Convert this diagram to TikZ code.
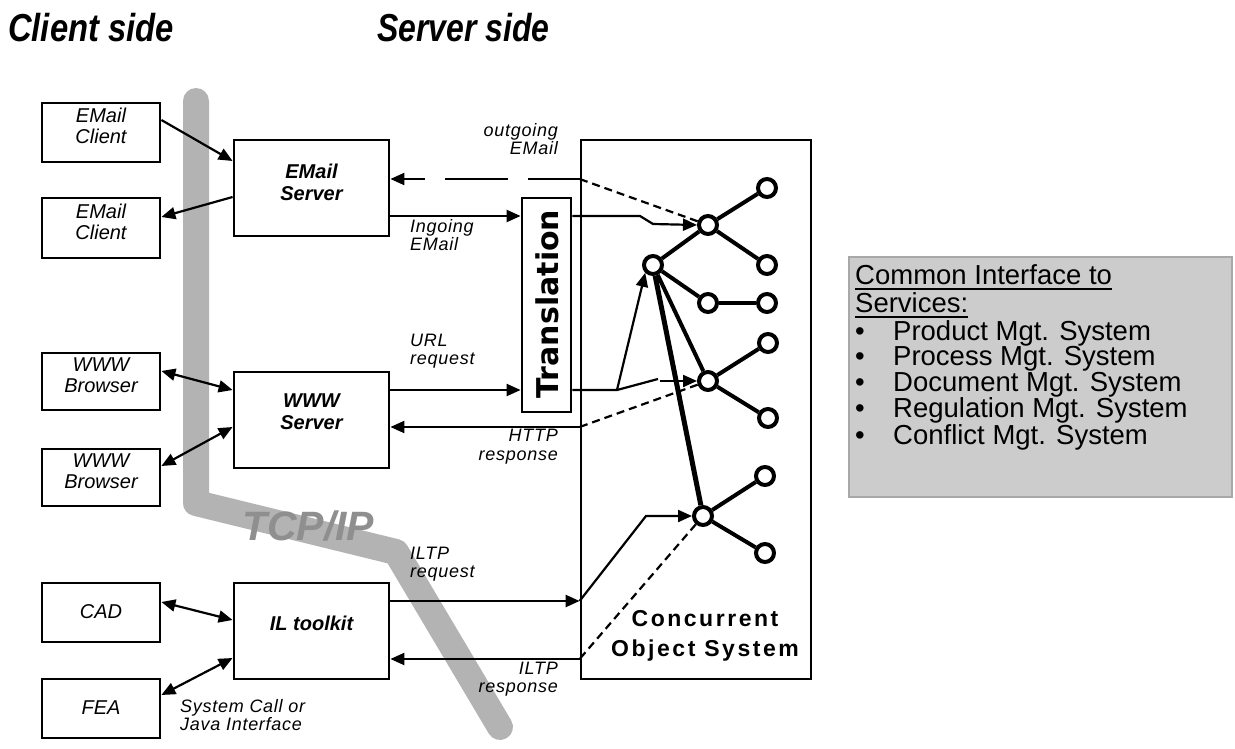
\documentclass[tikz,border=0pt]{standalone}
\usepackage{graphicx}
\usepackage{fontspec}
\setmainfont{Liberation Sans}
\newfontfamily\lblfont[LetterSpace=4]{Liberation Sans}
\newfontfamily\cosfont[LetterSpace=11]{Liberation Sans}
\newfontfamily\trfont{DejaVu Sans}
\usetikzlibrary{arrows.meta}
\definecolor{bandgray}{HTML}{B3B3B3}
\definecolor{tcpgray}{HTML}{8F8F8F}
\definecolor{panel}{HTML}{CCCCCC}
\definecolor{paneledge}{HTML}{A8A8A8}
\begin{document}
\begin{tikzpicture}[x=1pt,y=-1pt,
  >={Triangle[length=14pt,width=12pt]},
  cbox/.style={draw,line width=2.8pt,inner sep=0pt},
  conn/.style={line width=2.2pt},
  sdash/.style={line width=2.2pt,dash pattern=on 8pt off 5pt},
  ldash/.style={line width=2.2pt,dash pattern=on 52pt off 20pt on 63pt off 20pt},
  obj/.style={circle,draw,fill=white,line width=4pt,minimum size=18pt,inner sep=0pt},
  tedge/.style={line width=4pt},
  ttl/.style={font=\fontsize{39}{39}\selectfont\bfseries\itshape,inner sep=0pt,anchor=base west},
  clbl/.style={font=\fontsize{20}{21}\selectfont\itshape,align=center,inner sep=0pt},
  slbl/.style={font=\fontsize{20}{22}\selectfont\bfseries\itshape,align=center,inner sep=0pt},
  nlbl/.style={font=\lblfont\fontsize{18}{18.5}\selectfont\itshape,inner sep=0pt},
  ptxt/.style={font=\fontsize{27.5}{25.5}\selectfont,inner sep=0pt},
]
\useasboundingbox (0,0) rectangle (1235,749);

% TCP/IP band
\draw[bandgray,line width=26pt,line cap=round,line join=round]
  (196,101) -- (196,503) -- (396,552) -- (500,727);
\node[font=\fontsize{41}{41}\selectfont\bfseries\itshape,text=tcpgray,anchor=base west,inner sep=0pt] (tcp) at (242,540) {TCP/IP};

% titles
\node[ttl] (ct) at (8,42) {\scalebox{0.84}[1]{Client side}};
\node[ttl] (st) at (377,42) {\scalebox{0.82}[1]{Server side}};

% client boxes
\node[cbox,minimum width=118pt,minimum height=59pt] (ec1) at (101,132.5) {};
\node[cbox,minimum width=118pt,minimum height=60pt] (ec2) at (101,228) {};
\node[cbox,minimum width=118pt,minimum height=57pt] (wb1) at (101,381.5) {};
\node[cbox,minimum width=118pt,minimum height=57pt] (wb2) at (101,477.5) {};
\node[cbox,minimum width=118pt,minimum height=59pt] (cad) at (101,612.5) {};
\node[cbox,minimum width=118pt,minimum height=59pt] (fea) at (101,708.5) {};
\node[clbl] (ec1t) at (101,126) {EMail\\Client};
\node[clbl] (ec2t) at (101,221.5) {EMail\\Client};
\node[clbl] (wb1t) at (101,375) {WWW\\Browser};
\node[clbl] (wb2t) at (101,471) {WWW\\Browser};
\node[clbl] (cadt) at (101,612) {CAD};
\node[clbl] (feat) at (101,707.5) {FEA};

% servers
\node[cbox,minimum width=155pt,minimum height=96pt] (es) at (311.5,188) {};
\node[cbox,minimum width=155pt,minimum height=96pt] (ws) at (311.5,420) {};
\node[cbox,minimum width=155pt,minimum height=96pt] (il) at (311.5,631) {};
\node[slbl] (est) at (311.5,182.5) {EMail\\Server};
\node[slbl] (wst) at (311.5,411.5) {WWW\\Server};
\node[slbl] (ilt) at (311.5,623) {IL toolkit};

% concurrent object system and translation
\node[cbox,minimum width=230pt,minimum height=539pt] (cos) at (696,409.5) {};
\node[cbox,minimum width=49pt,minimum height=214pt] (tr) at (546.5,305) {};
\node[rotate=90,font=\trfont\fontsize{30}{30}\selectfont\bfseries,inner sep=0pt] (trt) at (547.5,304) {Translation};
\node[font=\cosfont\fontsize{23}{30}\selectfont\bfseries,align=center,inner sep=0pt] (cost) at (705,636) {Concurrent\\Object System};

% client connectors
\draw[conn,->] (ec1.east |- 0,120) -- (es.west |- 0,161);
\draw[conn,->] (es.west |- 0,197) -- (ec2.east |- 0,217);
\draw[conn,<->] (wb1.east |- 0,371) -- (ws.west |- 0,390);
\draw[conn,<->] (wb2.east |- 0,466) -- (ws.west |- 0,427);
\draw[conn,<->] (cad.east |- 0,602) -- (il.west |- 0,620);
\draw[conn,<->] (fea.east |- 0,695) -- (il.west |- 0,658);

% object tree
\node[obj] (n0) at (653,265) {};
\node[obj] (n1) at (708,225) {};
\node[obj] (l1) at (767,188) {};
\node[obj] (l2) at (767,265) {};
\node[obj] (m1) at (708,303) {};
\node[obj] (l3) at (767,303) {};
\node[obj] (n2) at (708,381) {};
\node[obj] (l4) at (768,343) {};
\node[obj] (l5) at (768,418) {};
\node[obj] (n3) at (703,516) {};
\node[obj] (l6) at (765,476) {};
\node[obj] (l7) at (765,553) {};
\draw[tedge] (n0) -- (n1);
\draw[tedge] (n1) -- (l1);
\draw[tedge] (n1) -- (l2);
\draw[tedge] (n0) -- (m1);
\draw[tedge] (m1) -- (l3);
\draw[tedge] (n0) -- (n2);
\draw[tedge] (n2) -- (l4);
\draw[tedge] (n2) -- (l5);
\draw[tedge] (n3) -- (l6);
\draw[tedge] (n3) -- (l7);
\draw[tedge,line width=5pt] (n0) -- (n3);

% server connectors
\draw[sdash] (n1) -- (cos.west |- 0,179);
\draw[ldash,->] (cos.west |- 0,179) -- (es.east |- 0,179);
\draw[conn,->] (es.east |- 0,216) -- (tr.west |- 0,216);
\draw[conn,->] (tr.east |- 0,216) -- (640,216) -- (653,224) -- (n1.west);
\draw[conn,->] (ws.east |- 0,390) -- (tr.west |- 0,390);
\draw[conn] (tr.east |- 0,390) -- (617,390) coordinate (sw) -- (658,379);
\draw[conn,->] (660,381) -- (n2.west);
\draw[conn,->] (sw) -- (n0.south west);
\draw[sdash] (n2) -- (cos.west |- 0,427);
\draw[conn,->] (cos.west |- 0,427) -- (ws.east |- 0,427);
\draw[conn,->] (il.east |- 0,601) -- (cos.west |- 0,601);
\draw[conn,->] (cos.west |- 0,601) -- (646,516) -- (n3.west);
\draw[sdash] (n3) -- (cos.west |- 0,659);
\draw[conn,->] (cos.west |- 0,659) -- (il.east |- 0,659);

% connector labels
\node[nlbl,align=right,anchor=east] (og) at (558,139) {outgoing\\EMail};
\node[nlbl,align=left,anchor=west] (ig) at (410,235) {Ingoing\\EMail};
\node[nlbl,align=left,anchor=west] (url) at (410,351) {URL\\request};
\node[nlbl,align=right,anchor=east] (http) at (558,446.5) {HTTP\\response};
\node[nlbl,align=left,anchor=west] (iltpq) at (410,564) {ILTP\\request};
\node[nlbl,align=right,anchor=east] (iltpr) at (558,679) {ILTP\\response};
\node[nlbl,align=left,anchor=west] (sys) at (180,715) {System Call or\\Java Interface};

% common interface panel
\node[draw=paneledge,fill=panel,line width=2pt,minimum width=383pt,minimum height=240pt,inner sep=0pt] (ci) at (1040.5,377) {};
\node[ptxt,anchor=base west,text depth=5pt] (ci1) at (855,284) {Common Interface to};
\node[ptxt,anchor=base west,text depth=5pt] (ci2) at (855,312) {Services:};
\draw[line width=2pt] (ci1.south west) -- (ci1.south east);
\draw[line width=2pt] (ci2.south west) -- (ci2.south east);
\node[ptxt,anchor=north west,align=left] (cil) at (855,320) {%
\makebox[38pt][l]{\textbullet}Product Mgt. System\\
\makebox[38pt][l]{\textbullet}Process Mgt. System\\
\makebox[38pt][l]{\textbullet}Document Mgt. System\\
\makebox[38pt][l]{\textbullet}Regulation Mgt. System\\
\makebox[38pt][l]{\textbullet}Conflict Mgt. System};
\end{tikzpicture}
\end{document}
